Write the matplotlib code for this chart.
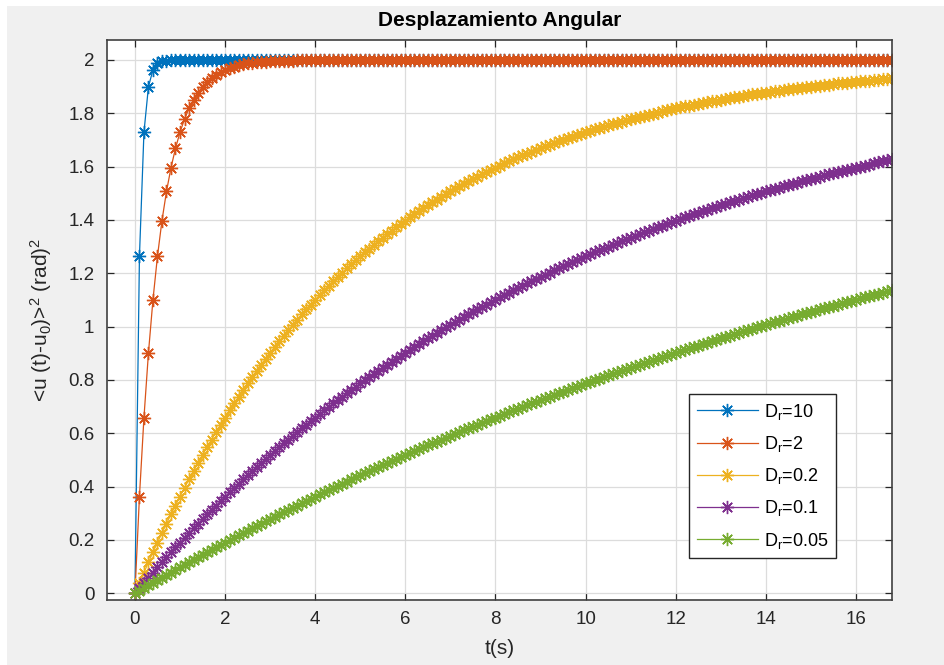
import numpy as np
import matplotlib
matplotlib.use('Agg')
import matplotlib.pyplot as plt
from matplotlib.patches import Rectangle
from matplotlib.ticker import FormatStrFormatter

plt.rcParams['font.family'] = ['Liberation Sans', 'DejaVu Sans']
plt.rcParams['mathtext.fontset'] = 'custom'
plt.rcParams['mathtext.rm'] = 'Liberation Sans'
plt.rcParams['mathtext.it'] = 'Liberation Sans:italic'

# tiempo de muestreo (s), paso 0.1
t = np.linspace(0, 16.8, 169)

# desplazamiento angular cuadratico medio para cada Dr
y_dr10 = [0.000, 1.264, 1.729, 1.900, 1.963, 1.987, 1.995, 1.998, 1.999] + [2.0] * 160

y_dr2 = [0.000, 0.363, 0.659, 0.902, 1.101, 1.264, 1.398, 1.507, 1.596, 1.669,
         1.729, 1.778, 1.819, 1.851, 1.878, 1.900, 1.918, 1.933, 1.945, 1.955,
         1.963, 1.970, 1.975, 1.980, 1.984, 1.987, 1.989, 1.991, 1.993, 1.994,
         1.995, 1.996, 1.997, 1.997, 1.998, 1.998] + [2.0] * 133

y_dr02 = [0.000, 0.040, 0.078, 0.116, 0.154, 0.190, 0.226, 0.261, 0.296, 0.329,
          0.363, 0.395, 0.427, 0.458, 0.488, 0.518, 0.548, 0.576, 0.605, 0.632,
          0.659, 0.686, 0.712, 0.737, 0.762, 0.787, 0.811, 0.835, 0.858, 0.880,
          0.902, 0.924, 0.945, 0.966, 0.987, 1.007, 1.026, 1.046, 1.065, 1.083,
          1.101, 1.119, 1.137, 1.154, 1.170, 1.187, 1.203, 1.219, 1.234, 1.249,
          1.264, 1.279, 1.293, 1.307, 1.321, 1.334, 1.347, 1.360, 1.373, 1.385,
          1.398, 1.410, 1.421, 1.433, 1.444, 1.455, 1.466, 1.476, 1.487, 1.497,
          1.507, 1.517, 1.526, 1.536, 1.545, 1.554, 1.563, 1.571, 1.580, 1.588,
          1.596, 1.604, 1.612, 1.620, 1.627, 1.635, 1.642, 1.649, 1.656, 1.663,
          1.669, 1.676, 1.682, 1.689, 1.695, 1.701, 1.707, 1.713, 1.718, 1.724,
          1.729, 1.735, 1.740, 1.745, 1.750, 1.755, 1.760, 1.765, 1.769, 1.774,
          1.778, 1.783, 1.787, 1.791, 1.795, 1.799, 1.803, 1.807, 1.811, 1.815,
          1.819, 1.822, 1.826, 1.829, 1.833, 1.836, 1.839, 1.842, 1.845, 1.848,
          1.851, 1.854, 1.857, 1.860, 1.863, 1.866, 1.868, 1.871, 1.873, 1.876,
          1.878, 1.881, 1.883, 1.885, 1.888, 1.890, 1.892, 1.894, 1.896, 1.898,
          1.900, 1.902, 1.904, 1.906, 1.908, 1.910, 1.912, 1.913, 1.915, 1.917,
          1.918, 1.920, 1.922, 1.923, 1.925, 1.926, 1.928, 1.929, 1.931]

y_dr01 = [0.000, 0.020, 0.040, 0.059, 0.078, 0.098, 0.116, 0.135, 0.154, 0.172,
          0.190, 0.208, 0.226, 0.244, 0.261, 0.279, 0.296, 0.313, 0.329, 0.346,
          0.363, 0.379, 0.395, 0.411, 0.427, 0.442, 0.458, 0.473, 0.488, 0.503,
          0.518, 0.533, 0.548, 0.562, 0.576, 0.591, 0.605, 0.619, 0.632, 0.646,
          0.659, 0.673, 0.686, 0.699, 0.712, 0.725, 0.737, 0.750, 0.762, 0.775,
          0.787, 0.799, 0.811, 0.823, 0.835, 0.846, 0.858, 0.869, 0.880, 0.891,
          0.902, 0.913, 0.924, 0.935, 0.945, 0.956, 0.966, 0.977, 0.987, 0.997,
          1.007, 1.017, 1.026, 1.036, 1.046, 1.055, 1.065, 1.074, 1.083, 1.092,
          1.101, 1.110, 1.119, 1.128, 1.137, 1.145, 1.154, 1.162, 1.170, 1.179,
          1.187, 1.195, 1.203, 1.211, 1.219, 1.227, 1.234, 1.242, 1.249, 1.257,
          1.264, 1.272, 1.279, 1.286, 1.293, 1.300, 1.307, 1.314, 1.321, 1.328,
          1.334, 1.341, 1.347, 1.354, 1.360, 1.367, 1.373, 1.379, 1.385, 1.392,
          1.398, 1.404, 1.410, 1.415, 1.421, 1.427, 1.433, 1.438, 1.444, 1.449,
          1.455, 1.460, 1.466, 1.471, 1.476, 1.482, 1.487, 1.492, 1.497, 1.502,
          1.507, 1.512, 1.517, 1.521, 1.526, 1.531, 1.536, 1.540, 1.545, 1.549,
          1.554, 1.558, 1.563, 1.567, 1.571, 1.576, 1.580, 1.584, 1.588, 1.592,
          1.596, 1.600, 1.604, 1.608, 1.612, 1.616, 1.620, 1.624, 1.627]

y_dr005 = [0.000, 0.010, 0.020, 0.030, 0.040, 0.049, 0.059, 0.069, 0.078, 0.088,
           0.098, 0.107, 0.116, 0.126, 0.135, 0.144, 0.154, 0.163, 0.172, 0.181,
           0.190, 0.199, 0.208, 0.217, 0.226, 0.235, 0.244, 0.253, 0.261, 0.270,
           0.279, 0.287, 0.296, 0.304, 0.313, 0.321, 0.329, 0.338, 0.346, 0.354,
           0.363, 0.371, 0.379, 0.387, 0.395, 0.403, 0.411, 0.419, 0.427, 0.435,
           0.442, 0.450, 0.458, 0.466, 0.473, 0.481, 0.488, 0.496, 0.503, 0.511,
           0.518, 0.526, 0.533, 0.540, 0.548, 0.555, 0.562, 0.569, 0.576, 0.584,
           0.591, 0.598, 0.605, 0.612, 0.619, 0.625, 0.632, 0.639, 0.646, 0.653,
           0.659, 0.666, 0.673, 0.679, 0.686, 0.692, 0.699, 0.705, 0.712, 0.718,
           0.725, 0.731, 0.737, 0.744, 0.750, 0.756, 0.762, 0.769, 0.775, 0.781,
           0.787, 0.793, 0.799, 0.805, 0.811, 0.817, 0.823, 0.829, 0.835, 0.840,
           0.846, 0.852, 0.858, 0.863, 0.869, 0.875, 0.880, 0.886, 0.891, 0.897,
           0.902, 0.908, 0.913, 0.919, 0.924, 0.929, 0.935, 0.940, 0.945, 0.951,
           0.956, 0.961, 0.966, 0.971, 0.977, 0.982, 0.987, 0.992, 0.997, 1.002,
           1.007, 1.012, 1.017, 1.022, 1.026, 1.031, 1.036, 1.041, 1.046, 1.051,
           1.055, 1.060, 1.065, 1.069, 1.074, 1.079, 1.083, 1.088, 1.092, 1.097,
           1.101, 1.106, 1.110, 1.115, 1.119, 1.124, 1.128, 1.132, 1.137]

series = [y_dr10, y_dr2, y_dr02, y_dr01, y_dr005]
etiquetas = ['10', '2', '0.2', '0.1', '0.05']
colores = ['#0072BD', '#D95319', '#EDB120', '#7E2F8E', '#77AC30']

gris = '#262626'
fig = plt.figure(figsize=(9.45, 6.65), dpi=100)
fig.patch.set_facecolor('white')
fig.add_artist(Rectangle((7 / 945, 0), 1, 1 - 6 / 665, transform=fig.transFigure,
                         facecolor='#f0f0f0', edgecolor='none', zorder=-10))

ax = fig.add_axes([107 / 945, 1 - 600 / 665, 785 / 945, 560 / 665])
ax.set_facecolor('white')

for y, lab, c in zip(series, etiquetas, colores):
    ax.plot(t, y, color=c, lw=0.9, marker=(8, 2, 0), ms=9.5, mew=1.0,
            label='D$_{\\mathregular{r}}$=' + lab)

ax.set_xlim(-0.62, 16.8)
ax.set_ylim(-0.025, 2.075)
ax.set_xticks(np.arange(0, 17, 2))
ax.set_yticks(np.arange(0, 2.01, 0.2))
ax.yaxis.set_major_formatter(FormatStrFormatter('%g'))
ax.grid(True, color='#dcdcdc', lw=0.9)
ax.set_axisbelow(True)
ax.tick_params(direction='in', top=True, right=True, length=5, width=0.9,
               colors=gris, labelsize=13.5, pad=8)
ax.tick_params(axis='y', pad=9)
for s in ax.spines.values():
    s.set_color('#404040')
    s.set_linewidth(1.2)

ax.set_title('Desplazamiento Angular', fontsize=15, fontweight='bold', color='black', pad=10)
ax.set_xlabel('t(s)', fontsize=15, color=gris, labelpad=8)
ax.set_ylabel('<u (t)-u$_0$)>$^2$ (rad)$^2$', fontsize=15, color=gris, labelpad=10)

leg = ax.legend(loc='lower right', bbox_to_anchor=(0.929, 0.075), borderaxespad=0,
                fontsize=13, handlelength=3.4, fancybox=False, framealpha=1,
                edgecolor='#262626', borderpad=0.4, labelspacing=0.68, handletextpad=0.35)
leg.get_frame().set_linewidth(1.0)
for txt in leg.get_texts():
    txt.set_color('black')

fig.savefig('out.png', dpi=100)
